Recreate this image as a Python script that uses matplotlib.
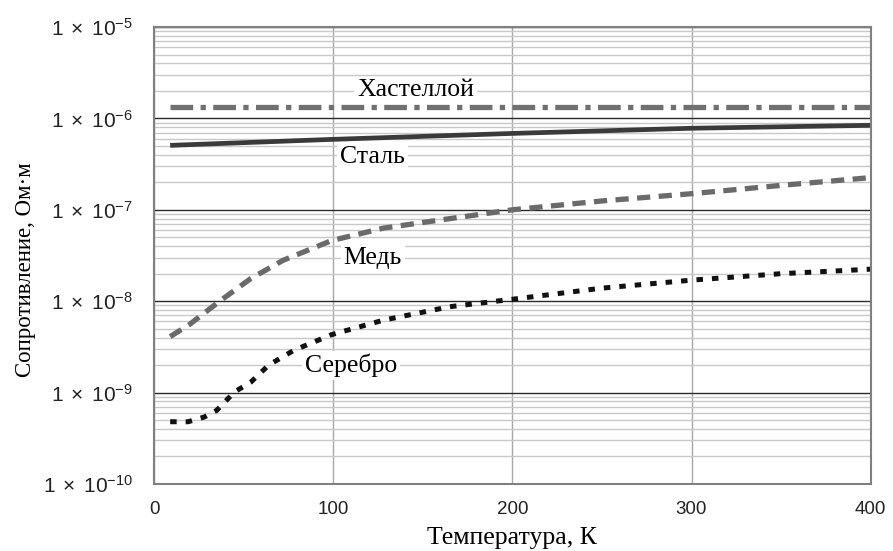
import numpy as np
import matplotlib.pyplot as plt
from matplotlib.ticker import LogLocator, FixedLocator

plt.rcParams['mathtext.fontset'] = 'custom'
plt.rcParams['mathtext.rm'] = 'Liberation Sans'
plt.rcParams['mathtext.it'] = 'Liberation Sans'

# Data (temperature in K, resistivity in Ohm*m)
t_hast = [9, 400]
r_hast = [1.32e-6, 1.32e-6]

t_steel = [9, 100, 200, 300, 400]
r_steel = [5.07e-7, 5.9e-7, 6.85e-7, 7.8e-7, 8.4e-7]

t_cu = [9, 20, 36, 54, 72, 99, 128, 165, 200, 250, 300, 350, 400]
r_cu = [4.1e-9, 5.6e-9, 9.8e-9, 1.77e-8, 2.8e-8, 4.6e-8, 6.3e-8, 8.0e-8,
        1.0e-7, 1.25e-7, 1.5e-7, 1.85e-7, 2.25e-7]

t_ag = [9, 19, 28, 35, 45, 54, 64, 78, 99, 128, 165, 200, 250, 300, 350, 400]
r_ag = [4.8e-10, 4.8e-10, 5.4e-10, 6.4e-10, 1.02e-9, 1.3e-9, 2.0e-9, 2.9e-9,
        4.3e-9, 6.2e-9, 8.7e-9, 1.05e-8, 1.39e-8, 1.7e-8, 2.0e-8, 2.24e-8]

labels = ['Хастеллой', 'Сталь', 'Медь', 'Серебро']
label_pos = [(146, 2.02e-6), (122, 3.74e-7), (122, 2.99e-8), (110, 1.99e-9)]

fig = plt.figure(figsize=(8.93, 5.51), dpi=100)
ax = fig.add_axes([0.1725, 0.1216, 0.8025, 0.8294])
ax.set_yscale('log')
ax.set_xlim(0, 400)
ax.set_ylim(1e-10, 1e-5)

# grid
ax.yaxis.set_major_locator(LogLocator(base=10, numticks=10))
ax.yaxis.set_minor_locator(LogLocator(base=10, subs=np.arange(2, 10), numticks=20))
ax.xaxis.set_major_locator(FixedLocator([0, 100, 200, 300, 400]))
ax.grid(True, which='minor', axis='y', color='#c8c8c8', lw=1.0)
ax.grid(True, which='major', axis='y', color='#2a2a2a', lw=1.0)
ax.grid(True, which='major', axis='x', color='#a8a8a8', lw=1.0)
ax.set_axisbelow(True)
for s in ax.spines.values():
    s.set_color('#808080')
    s.set_linewidth(1.5)

ax.tick_params(which='both', length=0)
ax.tick_params(axis='y', pad=15, labelsize=15, labelcolor='#222222')
ax.tick_params(axis='x', pad=12, labelsize=13.5, labelcolor='#222222')
ax.set_yticks([1e-10, 1e-9, 1e-8, 1e-7, 1e-6, 1e-5])
ax.set_yticklabels([r'$1\;\times\;10^{-%d}$' % k for k in [10, 9, 8, 7, 6, 5]])
for lab in ax.get_xticklabels():
    lab.set_fontfamily('Liberation Sans')

# curves
ax.plot(t_hast, r_hast, color='#707070', lw=3.8, dashes=(4.3, 1.4, 1.0, 1.4),
        solid_capstyle='butt', dash_capstyle='butt')
ax.plot(t_steel, r_steel, color='#3a3a3a', lw=3.4, solid_capstyle='butt')
ax.plot(t_cu, r_cu, color='#6a6a6a', lw=3.8, dashes=(2.5, 1.6), dash_capstyle='butt')
ax.plot(t_ag, r_ag, color='#111111', lw=3.6, dashes=(1.3, 1.8), dash_capstyle='butt')

for txt, (x, y) in zip(labels, label_pos):
    ax.text(x, y, txt, ha='center', va='center', fontsize=18.5,
            family='Liberation Serif',
            bbox=dict(facecolor='white', edgecolor='none', pad=2))

ax.set_xlabel('Температура, К', family='Liberation Serif', fontsize=18.5, labelpad=7)
ax.set_ylabel('Сопротивление, Ом·м', family='Liberation Serif', fontsize=16.5)
ax.yaxis.set_label_coords(-0.165, 0.47)

fig.savefig('out.png', dpi=100)
